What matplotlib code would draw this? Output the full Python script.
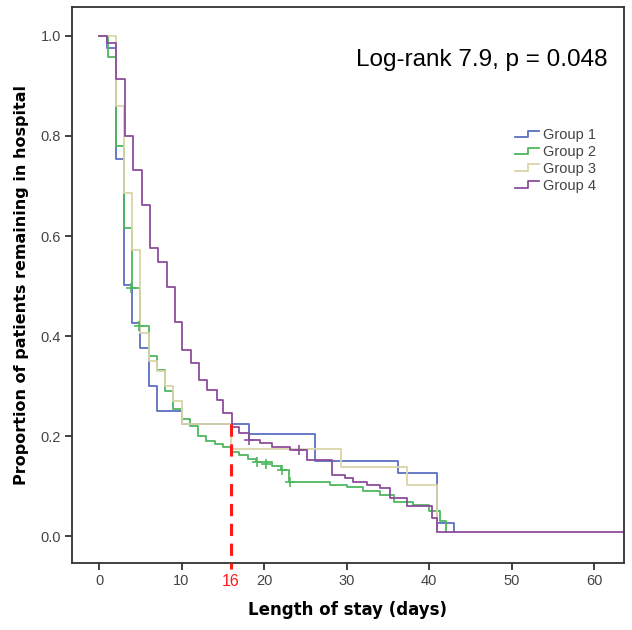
import matplotlib.pyplot as plt
from matplotlib.legend_handler import HandlerBase
from matplotlib.lines import Line2D

# Kaplan-Meier curves (time in days, proportion remaining)
g1_t = [0, 1, 2, 3, 4, 5, 6, 7, 10, 18.2, 26.2, 36.2, 41, 43]
g1_s = [1.0, 0.976, 0.754, 0.503, 0.427, 0.377, 0.30, 0.25, 0.225, 0.204, 0.15, 0.126, 0.026, 0.008]

g2_t = [0, 1.1, 2, 3, 4, 5, 6, 7, 8, 9, 10, 11, 12, 13, 14, 15, 16, 17, 18, 19, 21,
        22, 23, 28, 30, 32, 34, 35.7, 38, 40, 41.3, 42]
g2_s = [1.0, 0.958, 0.78, 0.617, 0.497, 0.42, 0.36, 0.333, 0.29, 0.255, 0.235, 0.22,
        0.20, 0.19, 0.185, 0.178, 0.168, 0.162, 0.155, 0.148, 0.14, 0.132, 0.108,
        0.103, 0.098, 0.09, 0.082, 0.068, 0.062, 0.05, 0.03, 0.008]
g2_cens_t = [3.9, 4.9, 19.1, 20.2, 22.2, 23.1]
g2_cens_s = [0.497, 0.42, 0.148, 0.145, 0.132, 0.108]

g3_t = [0, 2, 3, 4, 5, 6, 7, 8, 9, 10, 16, 29.3, 37.3, 41]
g3_s = [1.0, 0.86, 0.687, 0.573, 0.407, 0.35, 0.33, 0.30, 0.27, 0.225, 0.174, 0.138, 0.102, 0.008]

g4_t = [0, 1, 2, 3.2, 4.1, 5.2, 6.2, 7.1, 8.2, 9.2, 10.1, 11.1, 12.1, 13.1, 14.3, 15,
        16.1, 17, 18.2, 19.5, 21, 23.1, 25.2, 28.2, 29.8, 30.8, 32.5, 34, 35.3, 37.3,
        40.4, 41]
g4_s = [1.0, 0.985, 0.914, 0.80, 0.733, 0.663, 0.577, 0.549, 0.499, 0.429, 0.373,
        0.347, 0.313, 0.293, 0.273, 0.246, 0.218, 0.206, 0.192, 0.186, 0.178, 0.172,
        0.152, 0.122, 0.116, 0.108, 0.102, 0.096, 0.076, 0.06, 0.036, 0.008]
g4_cens_t = [18.2, 24.2]
g4_cens_s = [0.192, 0.172]
g4_end = 63.5

labels = ['Group 1', 'Group 2', 'Group 3', 'Group 4']
colors = ['#5b70c0', '#4db85e', '#d9d5a8', '#8c4c9c']
cut_day = 16
cut_surv = 0.225


class StepHandler(HandlerBase):
    def create_artists(self, legend, orig, xd, yd, w, h, fontsize, trans):
        xs = [xd, xd + w * 0.55, xd + w * 0.55, xd + w]
        ys = [yd + h * 0.2, yd + h * 0.2, yd + h * 0.85, yd + h * 0.85]
        ln = Line2D(xs, ys, color=orig.get_color(), lw=1.3, transform=trans)
        return [ln]


fig = plt.figure(figsize=(6.32, 6.30), dpi=100)
ax = fig.add_axes([0.114, 0.106, 0.873, 0.883])

series = [(g1_t, g1_s), (g2_t, g2_s), (g3_t, g3_s), (g4_t, g4_s)]
handles = []
for (t, s), c, lab in zip(series, colors, labels):
    tt = list(t) + [t[-1]]
    ss = list(s) + [s[-1]]
    if lab == 'Group 4':
        tt[-1] = g4_end
    h, = ax.step(tt, ss, where='post', color=c, lw=1.3, label=lab)
    handles.append(h)

ax.plot(g2_cens_t, g2_cens_s, ls='none', marker='+', ms=7, mew=1.2, color=colors[1])
ax.plot(g4_cens_t, g4_cens_s, ls='none', marker='+', ms=7, mew=1.2, color=colors[3])

# cut-off marker
ax.plot([cut_day, cut_day], [cut_surv, -0.066], color='#ff1a1a', lw=2.2,
        ls=(0, (4, 2.5)), clip_on=False, zorder=5)

ax.set_xlim(-3.27, 63.6)
ax.set_ylim(-0.054, 1.058)
ax.set_xticks([0, 10, 20, 30, 40, 50, 60])
ax.set_yticks([0.0, 0.2, 0.4, 0.6, 0.8, 1.0])
ax.set_yticklabels(['0.0', '0.2', '0.4', '0.6', '0.8', '1.0'])
ax.tick_params(direction='out', length=5, width=1.3, color='#333333',
               labelcolor='#444444', labelsize=10.5, pad=3)
for lbl in ax.get_xticklabels() + ax.get_yticklabels():
    lbl.set_family('Liberation Sans')
for sp in ax.spines.values():
    sp.set_color('#333333')
    sp.set_linewidth(1.3)

ax.annotate(str(cut_day), xy=(cut_day, 0), xycoords=('data', 'axes fraction'),
            xytext=(0, -8), textcoords='offset points', color='#ff1a1a',
            fontsize=11.5, ha='center', va='top', family='Liberation Sans')

ax.set_xlabel('Length of stay (days)', fontsize=12, fontweight='bold', labelpad=9)
ax.set_ylabel('Proportion of patients remaining in hospital', fontsize=11.5,
              fontweight='bold', labelpad=8)

ax.text(0.97, 0.905, 'Log-rank 7.9, p = 0.048', transform=ax.transAxes,
        ha='right', va='center', fontsize=17.5, family='Liberation Sans')

leg = ax.legend(handles=handles, labels=labels, handler_map={Line2D: StepHandler()},
                loc='upper left', bbox_to_anchor=(0.79, 0.795), frameon=False,
                prop={'family': 'Liberation Sans', 'size': 10.5},
                handlelength=1.6, handletextpad=0.3, labelspacing=0.2, borderpad=0)
for txt in leg.get_texts():
    txt.set_color('#444444')

fig.savefig('out.png', dpi=100)
